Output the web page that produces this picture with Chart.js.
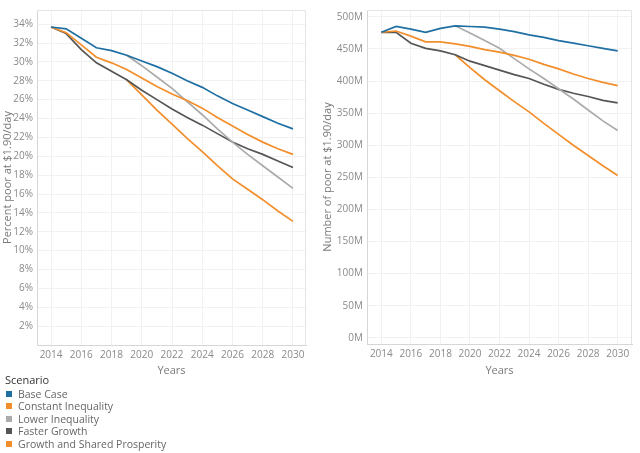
<!DOCTYPE html>
<html>
<head>
<meta charset="utf-8">
<script src="https://cdn.jsdelivr.net/npm/chart.js@4/dist/chart.umd.min.js"></script>
<style>
    body { margin: 0; width: 640px; height: 453px; background: #fff; font-family: "Open Sans", sans-serif; position: relative; overflow: hidden; }
    .box { position: absolute; top: 0; height: 380px; }
    #leyenda { position: absolute; left: 5px; top: 374px; font-size: 10.5px; color: #666; line-height: 12.5px; }
    #leyenda .titulo { color: #333; font-size: 11px; margin-bottom: 1px; }
    #leyenda .cuadro { display: inline-block; width: 6px; height: 6px; margin: 0 6px 0 1px; vertical-align: 1px; }
</style>
</head>
<body>
<div class="box" style="left:0;width:310px"><canvas id="pctChart"></canvas></div>
<div class="box" style="left:320px;width:316px"><canvas id="numChart"></canvas></div>
<div id="leyenda"></div>

<script>
// Data
const years = [2014, 2015, 2016, 2017, 2018, 2019, 2020, 2021, 2022, 2023, 2024, 2025, 2026, 2027, 2028, 2029, 2030];
const scenarios = ["Base Case", "Constant Inequality", "Lower Inequality", "Faster Growth", "Growth and Shared Prosperity"];
const colores = ["#1f6fa3", "#f28e2b", "#ababab", "#555555", "#f28e2b"];

// Percent poor at $1.90/day
const pctBase = [33.7, 33.5, 32.5, 31.5, 31.2, 30.7, 30.1, 29.5, 28.8, 28.0, 27.3, 26.4, 25.6, 24.9, 24.2, 23.5, 22.9];
const pctConst = [33.7, 33.1, 31.8, 30.5, 29.9, 29.2, 28.3, 27.4, 26.6, 25.9, 25.1, 24.1, 23.2, 22.3, 21.5, 20.8, 20.2];
const pctLower = [null, null, null, null, null, 30.7, 29.6, 28.4, 27.2, 25.8, 24.4, 22.9, 21.5, 20.2, 19.0, 17.8, 16.6];
const pctFaster = [33.7, 33.0, 31.3, 29.9, 29.0, 28.1, 27.0, 26.0, 25.0, 24.1, 23.3, 22.4, 21.5, 20.8, 20.2, 19.5, 18.8];
const pctShared = [null, null, null, null, null, 28.1, 26.5, 24.9, 23.4, 21.9, 20.5, 19.0, 17.6, 16.5, 15.4, 14.2, 13.1];

// Number of poor at $1.90/day (millions)
const numBase = [476, 485, 481, 476, 482, 486, 485, 484, 481, 477, 472, 468, 463, 459, 455, 451, 447];
const numConst = [476, 478, 470, 461, 461, 458, 454, 449, 445, 440, 434, 426, 419, 411, 404, 398, 393];
const numLower = [null, null, null, null, null, 486, 475, 463, 451, 435, 419, 404, 388, 372, 355, 338, 323];
const numFaster = [476, 476, 459, 451, 447, 441, 431, 424, 417, 410, 404, 395, 387, 381, 376, 370, 366];
const numShared = [null, null, null, null, null, 441, 421, 402, 385, 368, 352, 334, 317, 300, 284, 268, 253];

const fuente = { family: "'Open Sans', sans-serif", size: 10 };

// Light frame around the plot area (top and right edges)
const marco = {
    id: "marco",
    afterDraw(chart) {
        const { ctx, chartArea: a } = chart;
        ctx.save();
        ctx.strokeStyle = "#e4e4e4";
        ctx.lineWidth = 1;
        ctx.beginPath();
        ctx.moveTo(a.left, a.top + 0.5);
        ctx.lineTo(a.right - 0.5, a.top + 0.5);
        ctx.lineTo(a.right - 0.5, a.bottom);
        ctx.stroke();
        ctx.restore();
    }
};

function armarDatasets(series) {
    return series.map((vals, i) => ({
        label: scenarios[i],
        data: years.map((yr, j) => ({ x: yr, y: vals[j] })),
        borderColor: colores[i],
        backgroundColor: colores[i],
        borderWidth: 1.7,
        pointRadius: 0,
        tension: 0,
        spanGaps: false
    }));
}

function crearGrafico(id, series, opts) {
    return new Chart(document.getElementById(id), {
        type: "line",
        data: { datasets: armarDatasets(series) },
        options: {
            responsive: true,
            maintainAspectRatio: false,
            animation: false,
            layout: { padding: { top: 3, right: 4, left: 0, bottom: 0 } },
            plugins: { legend: { display: false }, tooltip: { enabled: false } },
            scales: {
                x: {
                    type: "linear",
                    min: opts.xMin,
                    max: opts.xMax,
                    afterFit: s => { s.height = opts.xAltura; },
                    border: { color: "#d6d6d6" },
                    grid: { color: "#f1f1f1", drawTicks: false },
                    ticks: {
                        stepSize: 2,
                        includeBounds: false,
                        padding: 4,
                        color: "#8a8a8a",
                        font: fuente,
                        maxRotation: 0,
                        callback: v => String(v)
                    },
                    title: { display: true, text: "Years", color: "#7a7a7a", font: { ...fuente, size: 11 }, padding: { top: 2, bottom: 3 } }
                },
                y: {
                    min: opts.yMin,
                    max: opts.yMax,
                    afterFit: s => { s.width = opts.yAncho; },
                    border: { color: "#d6d6d6" },
                    grid: { color: "#f1f1f1", drawTicks: false },
                    ticks: {
                        stepSize: opts.paso,
                        includeBounds: false,
                        padding: 4,
                        color: "#8a8a8a",
                        font: fuente,
                        callback: opts.formato
                    },
                    title: { display: true, text: opts.titulo, color: "#7a7a7a", font: { ...fuente, size: 11 }, padding: { top: 1, bottom: 2 } }
                }
            }
        },
        plugins: [marco]
    });
}

crearGrafico("pctChart", [pctBase, pctConst, pctLower, pctFaster, pctShared], {
    xMin: 2013.07, xMax: 2030.86, xAltura: 35,
    yMin: 0, yMax: 35.5, yAncho: 37, paso: 2,
    titulo: "Percent poor at $1.90/day",
    formato: v => (v === 0 ? "" : v + "%")
});

crearGrafico("numChart", [numBase, numConst, numLower, numFaster, numShared], {
    xMin: 2013.03, xMax: 2030.97, xAltura: 36,
    yMin: -9.6, yMax: 510.7, yAncho: 47, paso: 50,
    titulo: "Number of poor at $1.90/day",
    formato: v => Math.round(v) + "M"
});

// Legend
const leyenda = document.getElementById("leyenda");
leyenda.innerHTML = '<div class="titulo">Scenario</div>' + scenarios.map((s, i) =>
    `<div><span class="cuadro" style="background:${colores[i]}"></span>${s}</div>`
).join("");
</script>
</body>
</html>
